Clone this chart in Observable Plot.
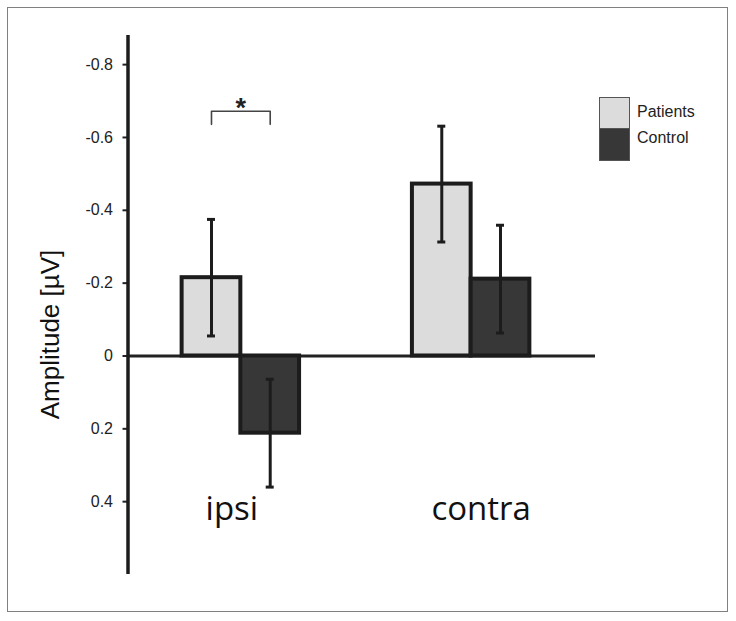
<!DOCTYPE html>
<html>
<head>
<meta charset="utf-8">
<script src="https://cdn.jsdelivr.net/npm/d3@7"></script>
<script src="https://cdn.jsdelivr.net/npm/@observablehq/plot@0.6"></script>
<style>
  html, body { margin: 0; padding: 0; background: #fff; }
  #wrap { position: relative; width: 736px; height: 621px; overflow: hidden; }
  #border { position: absolute; left: 7px; top: 7px; width: 719px; height: 603px; border: 1.5px solid #808080; pointer-events: none; }
  .sw { position: absolute; left: 599px; width: 29px; border: 1.5px solid #555; box-sizing: content-box; }
  .lab { position: absolute; left: 637px; font-family: Arial, "Liberation Sans", sans-serif; font-size: 16px; line-height: 16px; color: #222; white-space: nowrap; }
</style>
</head>
<body>
<div id="wrap">
  <div id="chart"></div>
  <div id="border"></div>
</div>
<script>
// ---- data ----
const categories = ["ipsi", "contra"];
const groups = ["Patients", "Control"];
const patientsMean = [-0.215, -0.472];
const patientsErr = [0.160, 0.159];
const controlMean = [0.212, -0.211];
const controlErr = [0.148, 0.148];
const yTicks = [-0.8, -0.6, -0.4, -0.2, 0, 0.2, 0.4];
const yLabel = "Amplitude [µV]";
const sigLabel = "*";
const sigCategory = "ipsi";
const sigBracketTop = -0.672;
const sigBracketLeg = -0.636;
const sigStarY = -0.68;
const catLabelY = 0.42;

// ---- layout / style ----
const fills = ["#dcdcdc", "#373737"];
const outline = "#1c1c1c";
const W = 0.255;           // bar width in category units
const xDomain = [-0.49, 1.54];
const catLabelDx = [-9, 10]; // pixel nudges of the category labels

const means = [patientsMean, controlMean];
const errs = [patientsErr, controlErr];
const rows = [];
categories.forEach((c, i) => {
  groups.forEach((g, k) => {
    rows.push({cat: c, i, group: g, k, mean: means[k][i], err: errs[k][i]});
  });
});
const center = d => d.i + (d.k - 0.5) * W;

const caps = rows.flatMap(d => [
  {...d, y: d.mean - d.err},
  {...d, y: d.mean + d.err}
]);

const si = categories.indexOf(sigCategory);
const bracket = [
  {x: si - W / 2, y: sigBracketLeg},
  {x: si - W / 2, y: sigBracketTop},
  {x: si + W / 2, y: sigBracketTop},
  {x: si + W / 2, y: sigBracketLeg}
];

const chart = Plot.plot({
  width: 736,
  height: 621,
  marginLeft: 127.5,
  marginRight: 141,
  marginTop: 35,
  marginBottom: 47,
  style: {fontFamily: "Arial, 'Liberation Sans', sans-serif", background: "transparent"},
  x: {domain: xDomain, axis: null},
  y: {domain: [0.6, -0.88], axis: null},
  marks: [
    Plot.ruleY([0], {stroke: "#222", strokeWidth: 3}),
    Plot.rectY(rows, {
      x1: d => d.i + (d.k === 0 ? -W : 0),
      x2: d => d.i + (d.k === 0 ? 0 : W),
      y1: 0,
      y2: d => d.mean,
      fill: d => fills[d.k],
      stroke: outline,
      strokeWidth: 4
    }),
    Plot.ruleX(rows, {
      x: center,
      y1: d => d.mean - d.err,
      y2: d => d.mean + d.err,
      stroke: outline,
      strokeWidth: 3
    }),
    Plot.ruleY(caps, {
      y: "y",
      x1: center,
      x2: center,
      insetLeft: -4,
      insetRight: -4,
      stroke: outline,
      strokeWidth: 3
    }),
    Plot.axisY(yTicks, {
      tickSize: 5,
      tickPadding: 10,
      fontSize: 16,
      tickFormat: d => String(d),
      label: null,
      color: "#222",
      strokeWidth: 2
    }),
    Plot.ruleX([xDomain[0]], {stroke: outline, strokeWidth: 3.5}),
    Plot.line(bracket, {x: "x", y: "y", stroke: "#444", strokeWidth: 1.6}),
    Plot.text([sigLabel], {
      x: si, y: sigStarY, text: d => d,
      fontSize: 27, fontWeight: "bold", fill: "#222"
    }),
    ...categories.map((c, i) => Plot.text([c], {
      x: i, y: catLabelY, text: d => d, dx: catLabelDx[i],
      fontSize: 33, fontFamily: "'Open Sans', sans-serif", fill: "#111"
    })),
    Plot.text([yLabel], {
      frameAnchor: "left", textAnchor: "middle", text: d => d, rotate: -90,
      dx: -77.5, dy: 29.5, fontSize: 26, fill: "#111"
    })
  ]
});
document.getElementById("chart").appendChild(chart);

// legend
const wrap = document.getElementById("wrap");
const swTops = [97, 128];
const swHeights = [29.5, 31];
const labTops = [104, 130];
groups.forEach((g, k) => {
  const sw = document.createElement("div");
  sw.className = "sw";
  sw.style.top = swTops[k] + "px";
  sw.style.height = swHeights[k] + "px";
  sw.style.background = fills[k];
  const lab = document.createElement("div");
  lab.className = "lab";
  lab.style.top = labTops[k] + "px";
  lab.textContent = g;
  wrap.appendChild(sw);
  wrap.appendChild(lab);
});
</script>
</body>
</html>
